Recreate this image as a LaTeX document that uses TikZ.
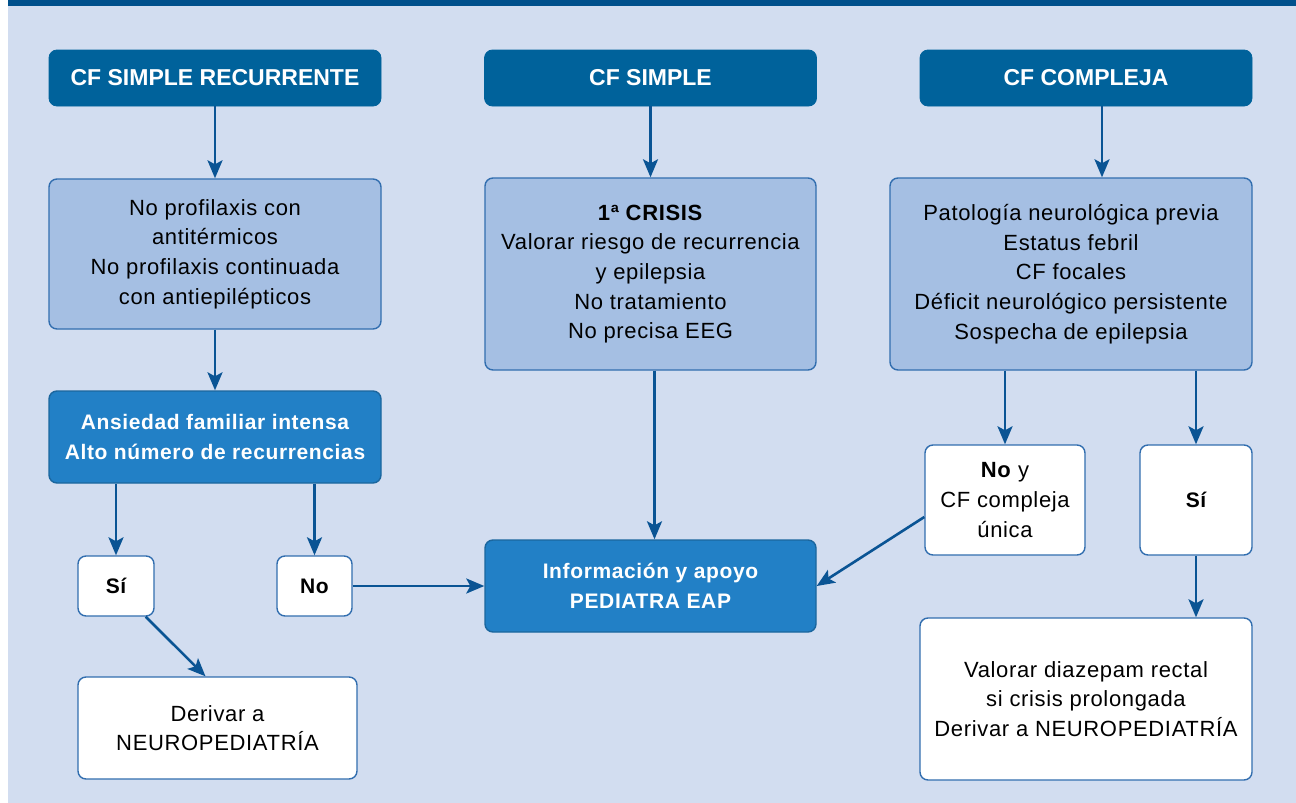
\documentclass[tikz,border=0pt]{standalone}
\usepackage{fontspec}
\setmainfont{Liberation Sans}[LetterSpace=3.0]
\newfontfamily\headfont{Liberation Sans}
\usetikzlibrary{arrows.meta, positioning}

\definecolor{bgblue}{RGB}{210,221,240}
\definecolor{barblue}{RGB}{0,80,140}
\definecolor{headblue}{RGB}{0,98,155}
\definecolor{paleblue}{RGB}{165,191,227}
\definecolor{midblue}{RGB}{34,128,198}
\definecolor{edgeblue}{RGB}{50,110,175}
\definecolor{arrowblue}{RGB}{10,84,148}

\tikzstyle{header} = [rectangle, rounded corners=4pt, minimum width=166pt, minimum height=28pt, text centered, draw=headblue, fill=headblue, text=white, font=\headfont\bfseries\fontsize{11.5}{14}\selectfont]
\tikzstyle{note} = [rectangle, rounded corners=4pt, minimum width=166pt, align=center, line width=0.7pt, draw=edgeblue, fill=paleblue, font=\fontsize{11}{14.8}\selectfont]
\tikzstyle{alert} = [note, fill=midblue, draw=midblue!80!black, text=white, font=\bfseries\fontsize{10.5}{14.8}\selectfont]
\tikzstyle{answer} = [note, fill=white]
\tikzstyle{choice} = [answer, font=\bfseries\fontsize{10.5}{14.8}\selectfont]
\tikzstyle{arrow} = [line width=1.3pt, draw=arrowblue, -{Stealth[length=9pt, width=7.5pt, inset=2pt]}]

\begin{document}
\begin{tikzpicture}[x=0.5pt, y=-0.5pt]
\useasboundingbox (0,0) rectangle (1296,803);
\fill[bgblue] (8,0) rectangle (1296,803);
\fill[barblue] (8,0) rectangle (1296,6);

\node (rec) [header] at (215,78) {CF SIMPLE RECURRENTE};
\node (simple) [header] at (650.5,78) {CF SIMPLE};
\node (compleja) [header] at (1086,78) {CF COMPLEJA};

\node (noprof) [note, minimum height=75pt] at (215,254) {No profilaxis con\\antitérmicos\\No profilaxis continuada\\con antiepilépticos};
\node (crisis) [note, minimum width=165.5pt, minimum height=96pt] at (650.5,274) {\textbf{1ª CRISIS}\\Valorar riesgo de recurrencia\\y epilepsia\\No tratamiento\\No precisa EEG};
\node (patol) [note, minimum width=181pt, minimum height=96pt] at (1071,274) {Patología neurológica previa\\Estatus febril\\CF focales\\Déficit neurológico persistente\\Sospecha de epilepsia};
\node (ansiedad) [alert, minimum height=46pt] at (215,437) {Ansiedad familiar intensa\\Alto número de recurrencias};

\node (si1) [choice, minimum width=38pt, minimum height=30pt] at (116,586) {Sí};
\node (no1) [choice, minimum width=37.5pt, minimum height=30pt] at (314.5,586) {No};
\node (apoyo) [alert, minimum width=165.5pt, minimum height=46pt] at (650.5,586) {Información y apoyo\\PEDIATRA EAP};
\node (noy) [answer, minimum width=80pt, minimum height=55pt] at (1005,500) {\textbf{No} y\\CF compleja\\única};
\node (si2) [choice, minimum width=56pt, minimum height=55pt] at (1196,500) {Sí};
\node (derivar) [answer, minimum width=139.5pt, minimum height=51pt] at (217.5,728) {Derivar a\\NEUROPEDIATRÍA};
\node (diazepam) [answer, minimum width=166pt, minimum height=81pt] at (1086,699) {Valorar diazepam rectal\\si crisis prolongada\\Derivar a NEUROPEDIATRÍA};

\draw[arrow] (rec) -- (noprof);
\draw[arrow] (simple) -- (crisis);
\draw[arrow] ([xshift=8pt]compleja.south) -- ([xshift=8pt]compleja.south |- patol.north);
\draw[arrow] (noprof) -- (ansiedad);
\draw[arrow] (ansiedad.south -| si1.north) -- (si1.north);
\draw[arrow] (ansiedad.south -| no1.north) -- (no1.north);
\draw[arrow] (no1.east) -- (apoyo.west);
\draw[arrow] ([xshift=2pt]crisis.south) -- ([xshift=2pt]apoyo.north);
\draw[arrow] (patol.south -| noy.north) -- (noy.north);
\draw[arrow] (patol.south -| si2.north) -- (si2.north);
\draw[arrow] ([yshift=-8.5pt]noy.west) -- (apoyo.east);
\draw[arrow] ([xshift=-4.5pt]si1.south east) -- ([xshift=-6pt]derivar.north);
\draw[arrow] (si2.south) -- (si2.south |- diazepam.north);
\end{tikzpicture}
\end{document}
